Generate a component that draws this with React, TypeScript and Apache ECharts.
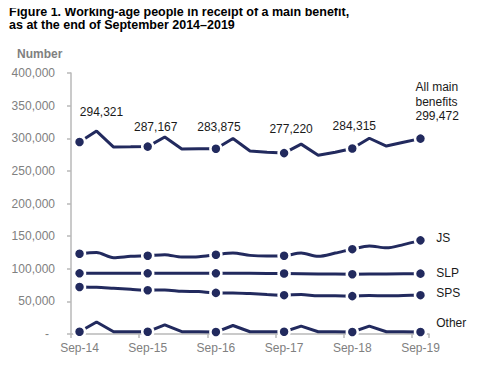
import React, { useEffect, useRef } from "react";
import * as echarts from "echarts";

const quarters = [
  "Sep-14", "Dec-14", "Mar-15", "Jun-15",
  "Sep-15", "Dec-15", "Mar-16", "Jun-16",
  "Sep-16", "Dec-16", "Mar-17", "Jun-17",
  "Sep-17", "Dec-17", "Mar-18", "Jun-18",
  "Sep-18", "Dec-18", "Mar-19", "Jun-19",
  "Sep-19",
];

const total = [294321, 311000, 286500, 286800, 287167, 302000, 283500, 284000, 283875, 299500, 280500, 278500, 277220, 291000, 274000, 278500, 284315, 300000, 288000, 294000, 299472];
const js = [123000, 125000, 117000, 119000, 120000, 121500, 118000, 118500, 121500, 124000, 120500, 119500, 120000, 124000, 119000, 124000, 130000, 135000, 132000, 137000, 143500];
const slp = [93000, 93000, 93000, 93000, 93000, 93000, 93000, 93000, 93000, 93000, 93000, 92800, 92800, 92500, 92000, 91800, 91500, 92000, 91800, 92300, 92500];
const sps = [72000, 71500, 70000, 68500, 67000, 67500, 65500, 65000, 63000, 63000, 62000, 60500, 59500, 60500, 58500, 58500, 58000, 59000, 58500, 59000, 59500];
const other = [3500, 18500, 3500, 3500, 3500, 14000, 3500, 3500, 3000, 13000, 3500, 3500, 3500, 12000, 3500, 3500, 3000, 12000, 3500, 3500, 3000];

const seriesNames = ["All main benefits", "JS", "SLP", "SPS", "Other"];
const yTicks = [0, 50000, 100000, 150000, 200000, 250000, 300000, 350000, 400000];

const titleLine1 = "Figure 1. Working-age people in receipt of a main benefit,";
const titleLine2 = "as at the end of September 2014\u20132019";

const NAVY = "#222a5e";
const FONT = "'Liberation Sans', Arial, sans-serif";
const fmt = (v: number) => v.toLocaleString("en-US");

// label offsets for total labels (styling only)
const totalLabelOffsets: Record<number, number[]> = {
  0: [22, -30],
  4: [8, -20],
  8: [3, -22],
  12: [7, -24],
  16: [2, -22],
};

export default function App() {
  const ref = useRef<HTMLDivElement>(null);
  useEffect(() => {
    if (!ref.current) return;
    const chart = echarts.init(ref.current, null, { renderer: "svg" });
    const last = quarters.length - 1;

    const baseSeries = (name: string, values: number[], smooth: number | boolean, extra: any = {}) => ({
      name,
      type: "line",
      data: values.map((v, i) => {
        if (i === last) {
          return {
            value: v,
            label: {
              show: true,
              position: "right",
              distance: 9,
              formatter: name,
              color: "#1a1a1a",
              fontSize: 12,
              fontFamily: FONT,
              offset: extra.nameOffset || [0, -2],
            },
          };
        }
        return v;
      }),
      smooth,
      showAllSymbol: true,
      symbol: (_v: any, p: any) => (p.dataIndex % 4 === 0 ? "circle" : "none"),
      symbolSize: 11,
      lineStyle: { color: NAVY, width: 3 },
      itemStyle: { color: NAVY, borderColor: "#fff", borderWidth: 2.5 },
      emphasis: { disabled: true },
      z: 2,
    });

    const totalSeries: any = {
      name: seriesNames[0],
      type: "line",
      data: total.map((v, i) => {
        if (i === last) {
          return {
            value: v,
            label: {
              show: true,
              position: "inside",
              align: "left",
              verticalAlign: "middle",
              offset: [-5, -37],
              lineHeight: 14.5,
              formatter: "All main\nbenefits\n" + fmt(v),
              color: "#1a1a1a",
              fontSize: 12,
              fontFamily: FONT,
            },
          };
        }
        if (i % 4 === 0) {
          return {
            value: v,
            label: {
              show: true,
              position: "inside",
              offset: totalLabelOffsets[i],
              formatter: fmt(v),
              color: "#1a1a1a",
              fontSize: 12,
              fontFamily: FONT,
            },
          };
        }
        return v;
      }),
      smooth: false,
      showAllSymbol: true,
      symbol: (_v: any, p: any) => (p.dataIndex % 4 === 0 ? "circle" : "none"),
      symbolSize: 11,
      lineStyle: { color: NAVY, width: 3 },
      itemStyle: { color: NAVY, borderColor: "#fff", borderWidth: 2.5 },
      emphasis: { disabled: true },
    };

    const titleStyle = { fontSize: 12.5, lineHeight: 12.5, fontWeight: "bold", color: "#000", fontFamily: FONT };

    chart.setOption({
      animation: false,
      textStyle: { fontFamily: FONT },
      title: [
        { text: titleLine1, left: 4, top: 1, textStyle: titleStyle },
        { text: titleLine2, left: 4, top: 13.5, textStyle: titleStyle },
        {
          text: "Number",
          left: 12,
          top: 43,
          textStyle: { fontSize: 12, fontWeight: "bold", color: "#808080", fontFamily: FONT },
        },
      ],
      grid: { left: 71, right: 53, top: 73, bottom: 38, containLabel: false },
      xAxis: {
        type: "category",
        data: quarters,
        boundaryGap: true,
        axisLine: { lineStyle: { color: "#b9b9b9", width: 1.5 } },
        axisTick: { show: true, interval: 3, length: 4, lineStyle: { color: "#b9b9b9", width: 1.5 } },
        axisLabel: { interval: 3, color: "#808080", fontSize: 12, margin: 8, fontFamily: FONT },
        splitLine: { show: false },
      },
      yAxis: {
        type: "value",
        min: yTicks[0],
        max: yTicks[yTicks.length - 1],
        interval: 50000,
        axisLine: { show: true, lineStyle: { color: "#b9b9b9", width: 1.5 } },
        axisTick: { show: true, length: 4, lineStyle: { color: "#b9b9b9", width: 1.5 } },
        axisLabel: {
          color: "#808080",
          fontSize: 12,
          margin: 16,
          fontFamily: FONT,
          formatter: (v: number) => (v === 0 ? "{dash|-}" : fmt(v)),
          rich: { dash: { padding: [0, 6, 0, 0], color: "#808080", fontSize: 12 } },
        },
        splitLine: { show: false },
      },
      series: [
        totalSeries,
        baseSeries(seriesNames[1], js, 0.3, { nameOffset: [0, -2] }),
        baseSeries(seriesNames[2], slp, false, { nameOffset: [0, -1] }),
        baseSeries(seriesNames[3], sps, 0.3, { nameOffset: [0, -2] }),
        baseSeries(seriesNames[4], other, false, { nameOffset: [0, -9] }),
      ],
    });
    return () => chart.dispose();
  }, []);
  return <div ref={ref} style={{ width: 482, height: 372, margin: -8 }} />;
}
